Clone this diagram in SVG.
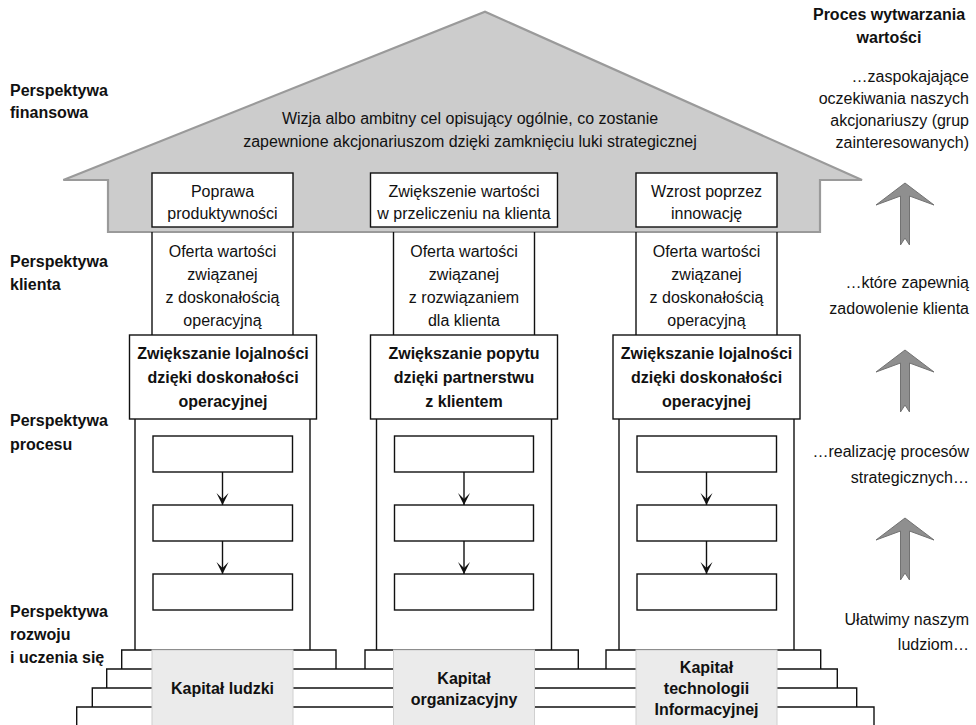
<svg xmlns="http://www.w3.org/2000/svg" width="976" height="725" viewBox="0 0 976 725">
<defs>
<style>
text{font-family:"Liberation Sans",Arial,sans-serif;font-size:16px;fill:#111}
.b{font-weight:bold}
.c{text-anchor:middle}
.e{text-anchor:end}
.box{fill:#fff;stroke:#111;stroke-width:1.4}
.ln{fill:none;stroke:#111;stroke-width:1.4}
.cap{fill:#ebebeb;stroke:#d0d0d0;stroke-width:1}
.up{fill:#8f8f8f;stroke:#727272;stroke-width:1}
</style>
<marker id="ah" viewBox="-13 -7 14 14" markerWidth="14" markerHeight="14" refX="0" refY="0" orient="auto" markerUnits="userSpaceOnUse">
<path d="M0,0 L-12,-6 L-6,0 L-12,6 Z" fill="#111"/>
</marker>
<path id="upArrow" d="M0,0 L29,22 L4.5,13 L4.5,62 L0,55 L-4.5,62 L-4.5,13 L-29,22 Z"/>
</defs>
<rect width="976" height="725" fill="#fff"/>

<g id="roof">
<polygon points="63.3,180 485,11.7 862,180 820,180 820,232 108,232 108,180" fill="#cccccc" stroke="#9a9a9a" stroke-width="2.2" stroke-linejoin="miter"/>
<text class="c" x="470" y="123.5">Wizja albo ambitny cel opisujący ogólnie, co zostanie</text>
<text class="c" x="470" y="147">zapewnione akcjonariuszom dzięki zamknięciu luki strategicznej</text>
</g>

<g id="fin1"><rect class="box" x="152" y="173" width="141" height="54"/><text class="c" x="222.5" y="197">Poprawa</text><text class="c" x="222.5" y="219">produktywności</text></g>
<g id="fin2"><rect class="box" x="370.5" y="173" width="187" height="54"/><text class="c" x="464" y="197">Zwiększenie wartości</text><text class="c" x="464" y="219">w przeliczeniu na klienta</text></g>
<g id="fin3"><rect class="box" x="636" y="173" width="141" height="54"/><text class="c" x="706.5" y="197">Wzrost poprzez</text><text class="c" x="706.5" y="219">innowację</text></g>

<g id="steps">
<path class="ln" d="M121.7,669 V650 H336 V669 M365,669 V650 H578.3 V669 M606,669 V650 H820.7 V669"/>
<path class="ln" d="M106.7,688 V669 H837.3 V688"/>
<path class="ln" d="M92.3,707 V688 H856.7 V707"/>
<path class="ln" d="M76.7,725 V707 H874 V725"/>
</g>

<g id="pillar1">
<path class="ln" d="M152,232 V335 M293,232 V335 M135,419 V650 M310,419 V650"/>
<rect class="box" x="129.5" y="335" width="187" height="84"/>
</g>
<g id="pillar2">
<path class="ln" d="M393.5,232 V335 M534.5,232 V335 M376.5,419 V650 M551.5,419 V650"/>
<rect class="box" x="370.5" y="335" width="187" height="84"/>
</g>
<g id="pillar3">
<path class="ln" d="M636,232 V335 M777,232 V335 M619,419 V650 M794,419 V650"/>
<rect class="box" x="613" y="335" width="187" height="84"/>
</g>

<g id="cust1"><text class="c" x="222.5" y="257">Oferta wartości</text><text class="c" x="222.5" y="280">związanej</text><text class="c" x="222.5" y="303">z doskonałością</text><text class="c" x="222.5" y="326">operacyjną</text></g>
<g id="cust2"><text class="c" x="464" y="257">Oferta wartości</text><text class="c" x="464" y="280">związanej</text><text class="c" x="464" y="303">z rozwiązaniem</text><text class="c" x="464" y="326">dla klienta</text></g>
<g id="cust3"><text class="c" x="706.5" y="257">Oferta wartości</text><text class="c" x="706.5" y="280">związanej</text><text class="c" x="706.5" y="303">z doskonałością</text><text class="c" x="706.5" y="326">operacyjną</text></g>

<g id="goal1"><text class="c b" x="223" y="359">Zwiększanie lojalności</text><text class="c b" x="223" y="383">dzięki doskonałości</text><text class="c b" x="223" y="407">operacyjnej</text></g>
<g id="goal2"><text class="c b" x="464" y="359">Zwiększanie popytu</text><text class="c b" x="464" y="383">dzięki partnerstwu</text><text class="c b" x="464" y="407">z klientem</text></g>
<g id="goal3"><text class="c b" x="706.5" y="359">Zwiększanie lojalności</text><text class="c b" x="706.5" y="383">dzięki doskonałości</text><text class="c b" x="706.5" y="407">operacyjnej</text></g>

<g id="proc1a"><rect class="box" x="153" y="436" width="139.5" height="36"/></g>
<g id="proc1b"><rect class="box" x="153" y="505" width="139.5" height="36"/></g>
<g id="proc1c"><rect class="box" x="153" y="574" width="139.5" height="36"/></g>
<g id="proc2a"><rect class="box" x="394.5" y="436" width="139" height="36"/></g>
<g id="proc2b"><rect class="box" x="394.5" y="505" width="139" height="36"/></g>
<g id="proc2c"><rect class="box" x="394.5" y="574" width="139" height="36"/></g>
<g id="proc3a"><rect class="box" x="637" y="436" width="139.5" height="36"/></g>
<g id="proc3b"><rect class="box" x="637" y="505" width="139.5" height="36"/></g>
<g id="proc3c"><rect class="box" x="637" y="574" width="139.5" height="36"/></g>

<g id="connectors" class="ln">
<path d="M222.5,472 V505" marker-end="url(#ah)"/>
<path d="M222.5,541 V574" marker-end="url(#ah)"/>
<path d="M464,472 V505" marker-end="url(#ah)"/>
<path d="M464,541 V574" marker-end="url(#ah)"/>
<path d="M706.5,472 V505" marker-end="url(#ah)"/>
<path d="M706.5,541 V574" marker-end="url(#ah)"/>
</g>

<g id="cap1"><rect class="cap" x="152" y="650" width="141" height="80"/><text class="c b" x="222.5" y="694">Kapitał ludzki</text></g>
<g id="cap2"><rect class="cap" x="393.5" y="650" width="141" height="80"/><text class="c b" x="464" y="684">Kapitał</text><text class="c b" x="464" y="705">organizacyjny</text></g>
<g id="cap3"><rect class="cap" x="636" y="650" width="141" height="80"/><text class="c b" x="706.5" y="673">Kapitał</text><text class="c b" x="706.5" y="694">technologii</text><text class="c b" x="706.5" y="715">Informacyjnej</text></g>

<g id="labels">
<text class="b" x="10" y="96">Perspektywa</text><text class="b" x="10" y="118">finansowa</text>
<text class="b" x="10" y="267">Perspektywa</text><text class="b" x="10" y="290">klienta</text>
<text class="b" x="10" y="426">Perspektywa</text><text class="b" x="10" y="450">procesu</text>
<text class="b" x="10" y="617">Perspektywa</text><text class="b" x="10" y="640">rozwoju</text><text class="b" x="10" y="663">i uczenia się</text>
</g>

<g id="valueChain">
<text class="c b" x="889" y="20">Proces wytwarzania</text>
<text class="c b" x="889" y="43">wartości</text>
<text class="e" x="969" y="82">…zaspokajające</text>
<text class="e" x="969" y="104">oczekiwania naszych</text>
<text class="e" x="969" y="126">akcjonariuszy (grup</text>
<text class="e" x="969" y="148">zainteresowanych)</text>
<use href="#upArrow" class="up" x="905" y="183"/>
<text class="e" x="969" y="288">…które zapewnią</text>
<text class="e" x="969" y="314">zadowolenie klienta</text>
<use href="#upArrow" class="up" x="905" y="350"/>
<text class="e" x="969" y="457">…realizację procesów</text>
<text class="e" x="969" y="483">strategicznych…</text>
<use href="#upArrow" class="up" x="905" y="518"/>
<text class="e" x="969" y="625">Ułatwimy naszym</text>
<text class="e" x="969" y="650">ludziom…</text>
</g>
</svg>
